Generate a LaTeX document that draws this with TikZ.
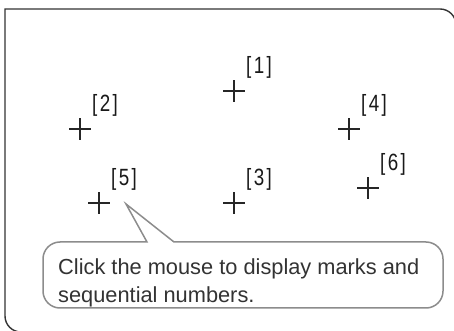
\documentclass[tikz,border=0pt]{standalone}
\usepackage{fontspec}
\setmainfont{Liberation Sans}
\newfontfamily\labelfont[FakeStretch=0.8,LetterSpace=10]{Liberation Sans}
\usetikzlibrary{shapes.misc, positioning, calc}

\begin{document}
\begin{tikzpicture}[
        x=1pt, y=1pt,
        frameline/.style={
            draw=black!80,
            line width=1.4pt
        },
        crosshair/.style={
            cross out,
            draw=black!85,
            rotate=45,
            minimum size=14.1pt,
            inner sep=0pt,
            line width=1.2pt
        },
        numlabel/.style={
            inner sep=0pt,
            font=\labelfont\fontsize{23.5}{24}\selectfont,
            text=black!90
        },
        bubble/.style={
            draw=black!45,
            fill=white,
            line width=1.5pt
        },
        msgtext/.style={
            inner sep=0pt,
            align=left,
            font=\fontsize{21.8}{28}\selectfont,
            text=black!80
        }
    ]

    \useasboundingbox (0,0) rectangle (454,331);

    % Screen frame (runs off the right and bottom edges)
    \begin{scope}
        \clip (0,0) rectangle (454,331);
        \draw[frameline] (456,-10) -- (456,306) arc[start angle=0, end angle=90, radius=16]
            -- (5,322) -- (5,15) arc[start angle=180, end angle=270, radius=16] -- (480,-1);
    \end{scope}

    % Marks
    \node[crosshair] (m1) at (234,240) {};
    \node[crosshair] (m2) at (80,202) {};
    \node[crosshair] (m3) at (234,128) {};
    \node[crosshair] (m4) at (349,202) {};
    \node[crosshair] (m5) at (99,128) {};
    \node[crosshair] (m6) at (368,143) {};

    % Sequential numbers
    \node[numlabel, above right=12pt and 12pt of m1.center] (n1) {[1]};
    \node[numlabel, above right=12pt and 12pt of m2.center] (n2) {[2]};
    \node[numlabel, above right=12pt and 12pt of m3.center] (n3) {[3]};
    \node[numlabel, above right=12pt and 12pt of m4.center] (n4) {[4]};
    \node[numlabel, above right=12pt and 12pt of m5.center] (n5) {[5]};
    \node[numlabel, above right=12pt and 12pt of m6.center] (n6) {[6]};

    % Speech bubble pointing at mark 5
    \coordinate (tip) at (126,127);
    \draw[bubble] (174,89) -- (426,89) arc[start angle=90, end angle=0, radius=17]
        -- (443,40) arc[start angle=0, end angle=-90, radius=17]
        -- (60,23) arc[start angle=270, end angle=180, radius=17]
        -- (43,72) arc[start angle=180, end angle=90, radius=17]
        -- (147,89) -- (tip) -- cycle;
    \node[msgtext, anchor=base west] (msg) at (58,28)
        {Click the mouse to display marks and\\sequential numbers.};

\end{tikzpicture}
\end{document}
